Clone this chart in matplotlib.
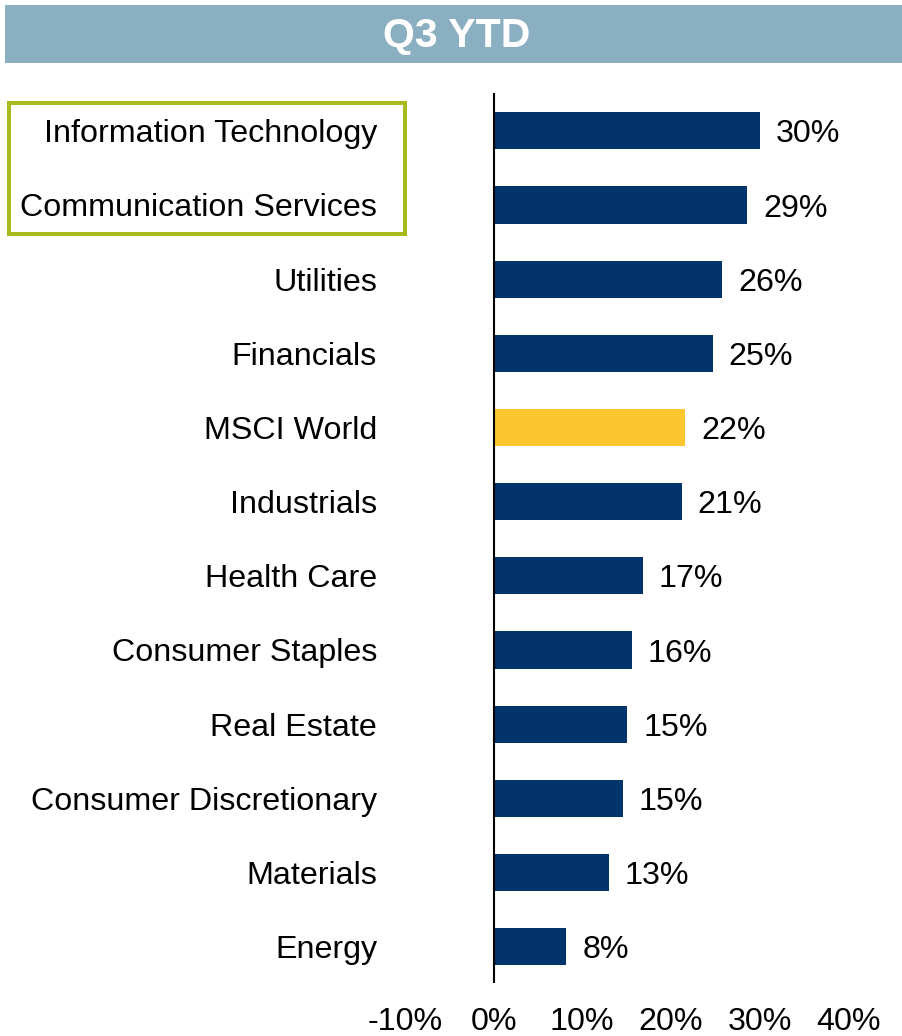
import matplotlib
matplotlib.use("Agg")
import matplotlib.pyplot as plt
from matplotlib.patches import Rectangle

categories = ["Information Technology", "Communication Services", "Utilities",
              "Financials", "MSCI World", "Industrials", "Health Care",
              "Consumer Staples", "Real Estate", "Consumer Discretionary",
              "Materials", "Energy"]
values = [30.0, 28.6, 25.8, 24.7, 21.6, 21.2, 16.8, 15.6, 15.1, 14.6, 13.0, 8.2]
highlight = "MSCI World"
xticks = [-10, 0, 10, 20, 30, 40]
xtick_labels = ["-10%", "0%", "10%", "20%", "30%", "40%"]
title = "Q3 YTD"

NAVY = "#02336A"
GOLD = "#FEC62E"
BANNER = "#8AAFC1"
GREEN = "#A9BA1E"

plt.rcParams['font.family'] = ['Liberation Sans', 'DejaVu Sans']
W, H = 902, 1036
FS = 23.2
fig = plt.figure(figsize=(W / 100, H / 100), dpi=100)

# banner
fig.patches.append(Rectangle((5 / W, 1 - 63 / H), 1 - 5 / W, 58 / H,
                             transform=fig.transFigure, facecolor=BANNER,
                             edgecolor='none', zorder=0))
fig.text(457 / W, 1 - 47 / H, title, color='white', fontsize=29.5,
         fontweight='bold', ha='center', va='baseline')

# axes
x0, x1 = -10, 40
px_per = 8.87
zero_px = 493.5
left_px = zero_px + x0 * px_per
right_px = zero_px + x1 * px_per
top_px, bot_px = 93, 983
ax = fig.add_axes([left_px / W, 1 - bot_px / H, (right_px - left_px) / W,
                   (bot_px - top_px) / H])
ax.set_xlim(x0, x1)
n = len(categories)
ax.set_ylim(n - 0.51, -0.51)

colors = [GOLD if c == highlight else NAVY for c in categories]
ypos = list(range(n))
ax.barh(ypos, values, height=0.5, color=colors, zorder=2)
for y, v in zip(ypos, values):
    ax.annotate(f"{v:.0f}%", xy=(v, y), xytext=(11.5, -8.4),
                textcoords='offset points', va='baseline', ha='left',
                fontsize=FS, color='black')

ax.axvline(0, color='black', lw=1.5, zorder=3)
for s in ax.spines.values():
    s.set_visible(False)
ax.set_yticks(ypos)
ax.set_yticklabels(categories, fontsize=FS)
ax.set_xticks(xticks)
ax.set_xticklabels(xtick_labels, fontsize=FS)
ax.tick_params(axis='y', length=0, pad=(left_px - 377) * 0.72)
ax.tick_params(axis='x', length=0, pad=17.5)

# green highlight box
fig.patches.append(Rectangle((9.3 / W, 1 - 234 / H), 395.7 / W, 131.3 / H,
                             transform=fig.transFigure, facecolor='none',
                             edgecolor=GREEN, lw=2.9, zorder=5))

fig.savefig("out.png", dpi=100)
